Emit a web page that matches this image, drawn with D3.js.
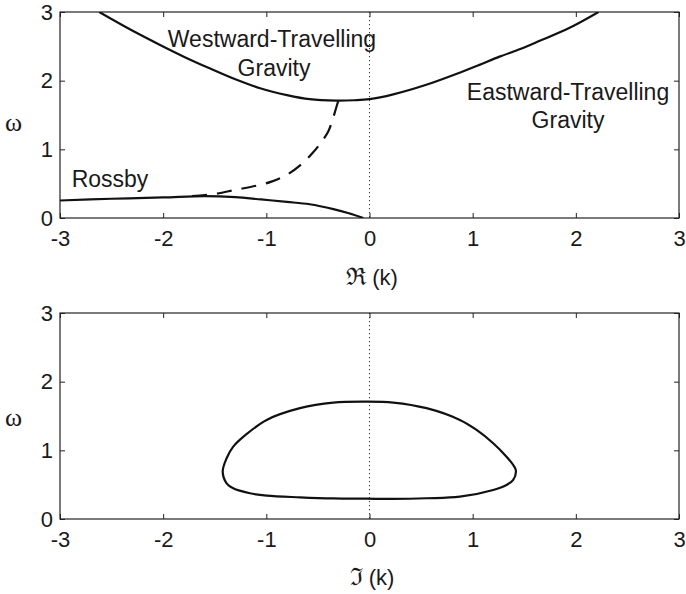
<!DOCTYPE html>
<html>
<head>
<meta charset="utf-8">
<script src="https://cdn.jsdelivr.net/npm/d3@7"></script>
<style>
  html, body { margin: 0; padding: 0; background: #fff; }
  svg { display: block; }
  .tick text { font-family: "Liberation Sans", Arial, sans-serif; font-size: 22px; fill: #1a1a1a; }
  .tick line { stroke: #222; stroke-width: 1; }
  .domain { display: none; }
</style>
</head>
<body>
<svg id="chart" width="686" height="594"></svg>
<script>
// Axis ticks
const kTicks = [-3, -2, -1, 0, 1, 2, 3];
const wTicks = [0, 1, 2, 3];

// Gravity branch: frequency against the real part of k
const gravK = [-2.62, -2.3, -2.03, -1.8, -1.55, -1.3, -1.06, -0.8, -0.58, -0.32, -0.15, 0, 0.23, 0.55, 0.88, 1.05, 1.26, 1.46, 1.65, 1.94, 2.22];
const gravW = [3.0, 2.73, 2.52, 2.35, 2.18, 2.02, 1.89, 1.79, 1.73, 1.71, 1.715, 1.73, 1.80, 1.94, 2.12, 2.22, 2.35, 2.46, 2.58, 2.77, 3.0];

// Rossby branch
const rossK = [-3, -2.5, -2.0, -1.6, -1.3, -1.05, -0.8, -0.58, -0.35, -0.2, -0.06];
const rossW = [0.255, 0.28, 0.30, 0.32, 0.305, 0.27, 0.235, 0.2, 0.13, 0.07, 0.0];

// Branch joining Rossby and gravity (dashed)
const mixK = [-1.72, -1.5, -1.3, -1.1, -0.95, -0.8, -0.67, -0.55, -0.46, -0.4, -0.36, -0.33, -0.3];
const mixW = [0.32, 0.35, 0.41, 0.47, 0.53, 0.63, 0.77, 0.95, 1.12, 1.26, 1.42, 1.57, 1.72];

// Imaginary part of k: closed loop, traced clockwise from its leftmost point
const loopK = [-1.423, -1.385, -1.321, -1.201, -0.997, -0.674, -0.352, -0.028, 0.23, 0.553, 0.876, 1.038, 1.199, 1.328, 1.393, 1.419,
               1.393, 1.328, 1.199, 0.876, 0.553, 0.23, -0.028, -0.352, -0.674, -0.997, -1.159, -1.321, -1.385];
const loopW = [0.69, 0.885, 1.054, 1.224, 1.443, 1.614, 1.696, 1.71, 1.696, 1.614, 1.443, 1.297, 1.103, 0.908, 0.787, 0.704,
               0.569, 0.496, 0.423, 0.325, 0.302, 0.292, 0.296, 0.30, 0.316, 0.34, 0.375, 0.447, 0.52];

const zip = (a, b) => a.map((v, i) => [v, b[i]]);

const svg = d3.select("#chart");
const x = d3.scaleLinear().domain([-3, 3]).range([60, 679]);
const yTop = d3.scaleLinear().domain([0, 3]).range([218, 12]);
const yBot = d3.scaleLinear().domain([0, 3]).range([519, 313]);

function panel(y, id, sym, labelY, omegaY) {
  const g = svg.append("g");
  const [y0, y1] = y.range();
  const defs = svg.append("defs");
  defs.append("clipPath").attr("id", id)
    .append("rect").attr("x", x(-3)).attr("y", y1).attr("width", x(3) - x(-3)).attr("height", y0 - y1);

  // zero line
  g.append("line")
    .attr("x1", x(0)).attr("x2", x(0)).attr("y1", y1).attr("y2", y0)
    .attr("stroke", "#333").attr("stroke-width", 1).attr("stroke-dasharray", "1.2,2.8");

  // ticks, all pointing inward
  const fmt = d => String(d);
  g.append("g").attr("transform", `translate(0,${y0})`)
    .call(d3.axisBottom(x).tickValues(kTicks).tickSizeInner(-5).tickSizeOuter(0).tickPadding(12.5).tickFormat(fmt));
  g.append("g").attr("transform", `translate(0,${y1})`)
    .call(d3.axisTop(x).tickValues(kTicks).tickSizeInner(-5).tickSizeOuter(0).tickFormat(""));
  g.append("g").attr("transform", `translate(${x(-3)},0)`)
    .call(d3.axisLeft(y).tickValues(wTicks).tickSizeInner(-5).tickSizeOuter(0).tickPadding(7).tickFormat(fmt));
  g.append("g").attr("transform", `translate(${x(3)},0)`)
    .call(d3.axisRight(y).tickValues(wTicks).tickSizeInner(-5).tickSizeOuter(0).tickFormat(""));

  // frame
  g.append("rect")
    .attr("x", x(-3)).attr("y", y1).attr("width", x(3) - x(-3)).attr("height", y0 - y1)
    .attr("fill", "none").attr("stroke", "#222").attr("stroke-width", 1.2);

  // axis labels
  const t = g.append("text")
    .attr("x", 372).attr("y", labelY)
    .attr("text-anchor", "middle")
    .attr("font-family", "'Liberation Sans', Arial, sans-serif")
    .attr("font-size", 22).attr("fill", "#1a1a1a");
  t.append("tspan").attr("font-family", "'DejaVu Serif', serif").attr("font-size", 24).text(sym);
  t.append("tspan").text(" (k)");

  g.append("text")
    .attr("x", 13.5).attr("y", omegaY)
    .attr("text-anchor", "middle")
    .attr("font-family", "'Liberation Serif', 'Times New Roman', serif")
    .attr("font-size", 26).attr("fill", "#1a1a1a")
    .text("ω");

  return svg.append("g").attr("clip-path", `url(#${id})`);
}

const topPanel = panel(yTop, "clipTop", "ℜ", 285, 131);
const botPanel = panel(yBot, "clipBot", "ℑ", 585, 426);

const lineTop = d3.line().x(d => x(d[0])).y(d => yTop(d[1])).curve(d3.curveCatmullRom.alpha(0.5));
const curveStyle = sel => sel.attr("fill", "none").attr("stroke", "#111").attr("stroke-width", 2.2)
  .attr("stroke-linejoin", "round").attr("stroke-linecap", "butt");

topPanel.append("path").datum(zip(gravK, gravW)).attr("d", lineTop).call(curveStyle);
topPanel.append("path").datum(zip(rossK, rossW)).attr("d", lineTop).call(curveStyle);
topPanel.append("path").datum(zip(mixK, mixW)).attr("d", lineTop).call(curveStyle)
  .attr("stroke-dasharray", "15,10");

const lineBot = d3.line().x(d => x(d[0])).y(d => yBot(d[1])).curve(d3.curveCatmullRomClosed.alpha(0.5));
botPanel.append("path").datum(zip(loopK, loopW)).attr("d", lineBot).call(curveStyle);

// branch annotations
const notes = [
  { t: "Westward-Travelling", x: 272, y: 47 },
  { t: "Gravity", x: 274, y: 76 },
  { t: "Eastward-Travelling", x: 568, y: 100 },
  { t: "Gravity", x: 568, y: 128 },
  { t: "Rossby", x: 110, y: 187 }
];
svg.append("g").selectAll("text").data(notes).join("text")
  .attr("x", d => d.x).attr("y", d => d.y)
  .attr("text-anchor", "middle")
  .attr("font-family", "'Liberation Sans', Arial, sans-serif")
  .attr("font-size", 23).attr("fill", "#1a1a1a")
  .text(d => d.t);
</script>
</body>
</html>
